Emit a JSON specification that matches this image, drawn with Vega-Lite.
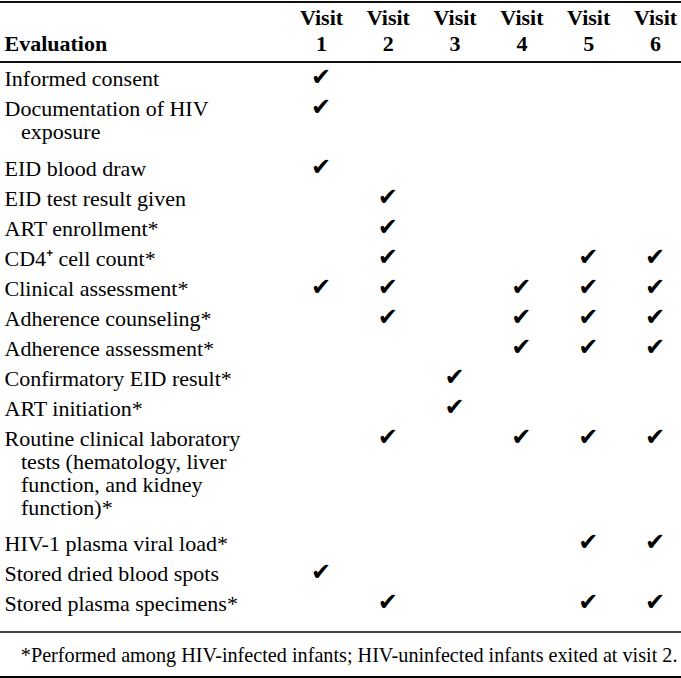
{
  "$schema": "https://vega.github.io/schema/vega-lite/v6.json",
  "width": 681,
  "height": 678,
  "autosize": {"type": "none"},
  "padding": 0,
  "background": "white",
  "config": {"view": {"stroke": null}, "font": "Liberation Serif"},
  "datasets": {
    "checks": [
      {"evaluation": "Informed consent", "visit": "1"},
      {"evaluation": "Documentation of HIV exposure", "visit": "1"},
      {"evaluation": "EID blood draw", "visit": "1"},
      {"evaluation": "EID test result given", "visit": "2"},
      {"evaluation": "ART enrollment*", "visit": "2"},
      {"evaluation": "CD4⁺ cell count*", "visit": "2"},
      {"evaluation": "CD4⁺ cell count*", "visit": "5"},
      {"evaluation": "CD4⁺ cell count*", "visit": "6"},
      {"evaluation": "Clinical assessment*", "visit": "1"},
      {"evaluation": "Clinical assessment*", "visit": "2"},
      {"evaluation": "Clinical assessment*", "visit": "4"},
      {"evaluation": "Clinical assessment*", "visit": "5"},
      {"evaluation": "Clinical assessment*", "visit": "6"},
      {"evaluation": "Adherence counseling*", "visit": "2"},
      {"evaluation": "Adherence counseling*", "visit": "4"},
      {"evaluation": "Adherence counseling*", "visit": "5"},
      {"evaluation": "Adherence counseling*", "visit": "6"},
      {"evaluation": "Adherence assessment*", "visit": "4"},
      {"evaluation": "Adherence assessment*", "visit": "5"},
      {"evaluation": "Adherence assessment*", "visit": "6"},
      {"evaluation": "Confirmatory EID result*", "visit": "3"},
      {"evaluation": "ART initiation*", "visit": "3"},
      {"evaluation": "Routine clinical laboratory tests (hematology, liver function, and kidney function)*", "visit": "2"},
      {"evaluation": "Routine clinical laboratory tests (hematology, liver function, and kidney function)*", "visit": "4"},
      {"evaluation": "Routine clinical laboratory tests (hematology, liver function, and kidney function)*", "visit": "5"},
      {"evaluation": "Routine clinical laboratory tests (hematology, liver function, and kidney function)*", "visit": "6"},
      {"evaluation": "HIV-1 plasma viral load*", "visit": "5"},
      {"evaluation": "HIV-1 plasma viral load*", "visit": "6"},
      {"evaluation": "Stored dried blood spots", "visit": "1"},
      {"evaluation": "Stored plasma specimens*", "visit": "2"},
      {"evaluation": "Stored plasma specimens*", "visit": "5"},
      {"evaluation": "Stored plasma specimens*", "visit": "6"}
    ],
    "rules": [
      {"rule": "top rule"},
      {"rule": "header rule"},
      {"rule": "body rule"},
      {"rule": "bottom rule"}
    ]
  },
  "layer": [
    {
      "data": {"name": "checks"},
      "mark": {"type": "text", "text": "✔", "font": "DejaVu Sans", "fontSize": 24, "align": "center", "baseline": "middle", "color": "black", "dy": 1},
      "encoding": {
        "x": {
          "field": "visit",
          "type": "nominal",
          "scale": {"type": "point", "padding": 0, "domain": ["1", "2", "3", "4", "5", "6"], "range": [321, 655]},
          "axis": {
            "orient": "top",
            "domain": false,
            "ticks": false,
            "tickSize": 0,
            "grid": false,
            "labelExpr": "['Visit', datum.value]",
            "labelFont": "Liberation Serif",
            "labelFontSize": 22,
            "labelFontWeight": "bold",
            "labelColor": "black",
            "labelAngle": 0,
            "labelAlign": "center",
            "labelBaseline": "alphabetic",
            "labelPadding": -24,
            "labelLineHeight": 26,
            "labelOverlap": false,
            "labelBound": false,
            "labelFlush": false,
            "title": "*Performed among HIV-infected infants; HIV-uninfected infants exited at visit 2.",
            "titleX": 677,
            "titleY": 661,
            "titleAlign": "right",
            "titleAngle": 0,
            "titleBaseline": "alphabetic",
            "titleFont": "Liberation Serif",
            "titleFontSize": 20.2,
            "titleFontWeight": "normal",
            "titleColor": "black",
            "titlePadding": 0
          }
        },
        "y": {
          "field": "evaluation",
          "type": "nominal",
          "scale": {
            "type": "point",
            "padding": 0,
            "range": [2, 677],
            "domain": ["top rule", "_m4", "_m3", "_m2", "header rule",
              "Informed consent", "_s1",
              "Documentation of HIV exposure", "_s3", "_s4", "_s5",
              "EID blood draw", "_s7",
              "EID test result given", "_s9",
              "ART enrollment*", "_s11",
              "CD4⁺ cell count*", "_s13",
              "Clinical assessment*", "_s15",
              "Adherence counseling*", "_s17",
              "Adherence assessment*", "_s19",
              "Confirmatory EID result*", "_s21",
              "ART initiation*", "_s23",
              "Routine clinical laboratory tests (hematology, liver function, and kidney function)*", "_s25", "_s26", "_s27", "_s28", "_s29", "_s30",
              "HIV-1 plasma viral load*", "_s32",
              "Stored dried blood spots", "_s34",
              "Stored plasma specimens*", "_s36",
              "body rule", "_s38", "_s39", "bottom rule"]
          },
          "axis": {
            "orient": "left",
            "domain": false,
            "ticks": false,
            "tickSize": 0,
            "grid": false,
            "labelExpr": "indexof(datum.value, '_') == 0 || indexof(datum.value, ' rule') >= 0 ? '' : datum.value == 'Documentation of HIV exposure' ? ['Documentation of HIV', '\u200b\u00a0\u00a0\u00a0exposure'] : indexof(datum.value, 'Routine') == 0 ? ['Routine clinical laboratory', '\u200b\u00a0\u00a0\u00a0tests (hematology, liver', '\u200b\u00a0\u00a0\u00a0function, and kidney', '\u200b\u00a0\u00a0\u00a0function)*'] : datum.value",
            "labelFont": "Liberation Serif",
            "labelFontSize": 22,
            "labelColor": "black",
            "labelAlign": "left",
            "labelBaseline": "alphabetic",
            "labelPadding": -4,
            "labelOffset": 8,
            "labelLineHeight": 23,
            "labelLimit": 600,
            "labelOverlap": false,
            "labelBound": false,
            "labelFlush": false,
            "title": "Evaluation",
            "titleX": 4,
            "titleY": 50,
            "titleAlign": "left",
            "titleAngle": 0,
            "titleBaseline": "alphabetic",
            "titleFont": "Liberation Serif",
            "titleFontSize": 22,
            "titleFontWeight": "bold",
            "titleColor": "black",
            "titlePadding": 0
          }
        }
      }
    },
    {
      "data": {"name": "rules"},
      "mark": {"type": "rule"},
      "encoding": {
        "y": {"field": "rule", "type": "nominal"},
        "strokeWidth": {
          "field": "rule",
          "type": "nominal",
          "scale": {"domain": ["top rule", "header rule", "body rule", "bottom rule"], "range": [2, 2, 2, 4]},
          "legend": null
        },
        "color": {
          "field": "rule",
          "type": "nominal",
          "scale": {"domain": ["top rule", "header rule", "body rule", "bottom rule"], "range": ["#111111", "#111111", "#444444", "#000000"]},
          "legend": null
        }
      }
    }
  ]
}
